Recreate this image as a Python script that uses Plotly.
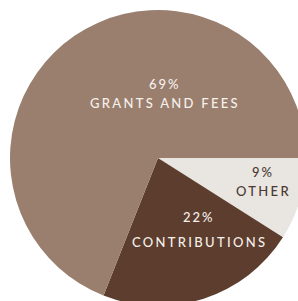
import plotly.graph_objects as go

labels = ["OTHER", "CONTRIBUTIONS", "GRANTS AND FEES"]
values = [9, 22, 69]
colors = ["#e9e5e0", "#5c3d2e", "#9a7f6f"]
text_colors = ["#4a3a33", "#f6f0ea", "#f6f0ea"]

W, H = 320, 320
cx, cy, R = 158, 158, 148

fig = go.Figure(go.Pie(
    labels=labels, values=values, sort=False, direction="clockwise", rotation=90,
    marker=dict(colors=colors, line=dict(width=0)),
    textinfo="none", showlegend=False,
    domain=dict(x=[(cx - R) / W, (cx + R) / W], y=[1 - (cy + R) / H, 1 - (cy - R) / H]),
))

label_pos = [(263, 172, 191), (199, 217, 242), (165, 84, 103)]
font_family = "Lato"
for lab, val, tc, (px, py1, py2) in zip(labels, values, text_colors, label_pos):
    fig.add_annotation(x=px / W, y=1 - py1 / H, xref="paper", yref="paper", showarrow=False,
                       xanchor="center", yanchor="middle",
                       text=f"<span style='letter-spacing:2px'>{val}%</span>",
                       font=dict(family=font_family, size=13, color=tc, weight=500))
    fig.add_annotation(x=px / W, y=1 - py2 / H, xref="paper", yref="paper", showarrow=False,
                       xanchor="center", yanchor="middle",
                       text=f"<span style='letter-spacing:2.3px'>{lab}</span>",
                       font=dict(family=font_family, size=13, color=tc, weight=500))

fig.update_layout(width=W, height=H, margin=dict(l=0, r=0, t=0, b=0),
                  paper_bgcolor="white", plot_bgcolor="white")

fig.write_html("out.html", config={"responsive": False, "displayModeBar": False},
               post_script="document.body.style.margin='0';document.body.style.overflow='hidden';")
